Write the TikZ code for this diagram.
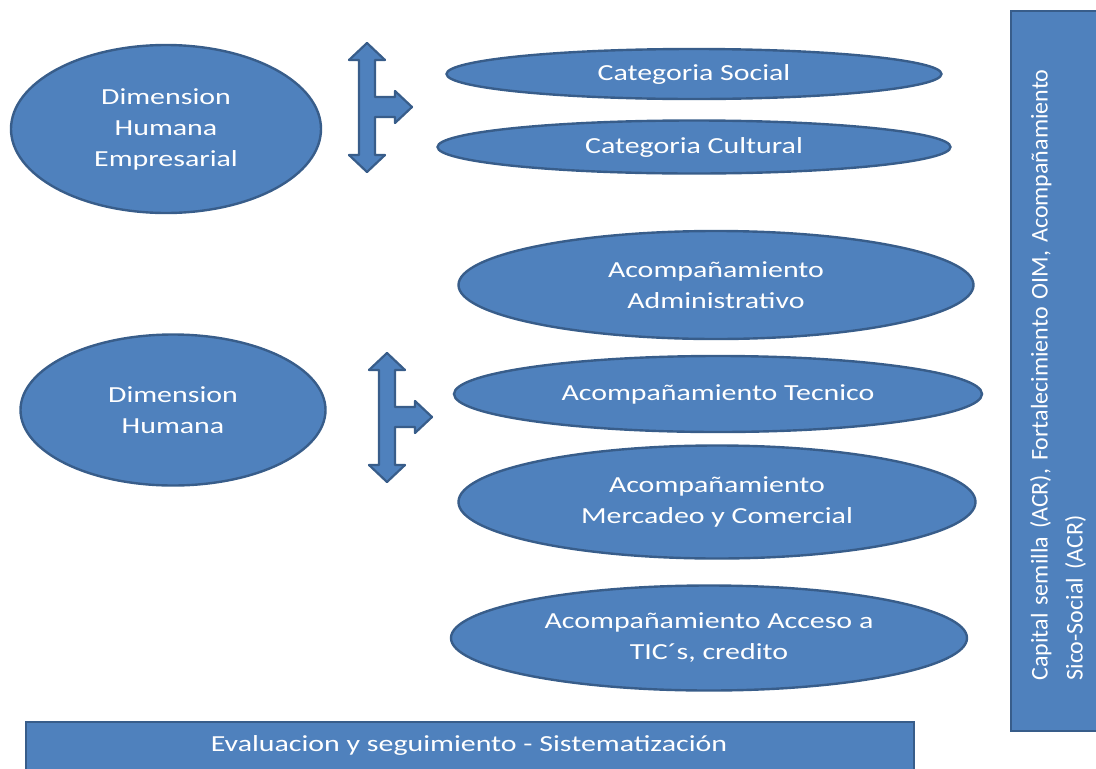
\documentclass[tikz,border=0pt]{standalone}
\usepackage{fontspec}
\setmainfont{Carlito}
\newfontfamily\wide[FakeStretch=1.3]{Carlito}
\usetikzlibrary{shapes.geometric}
\definecolor{fillblue}{RGB}{79,129,189}
\definecolor{edgeblue}{RGB}{56,93,138}
\tikzset{
  oval/.style={ellipse, draw=edgeblue, line width=2.4pt, fill=fillblue, text=white,
    inner sep=0pt, align=center, font=\wide\fontsize{23}{31}\selectfont},
  bar/.style={draw=edgeblue, line width=2.4pt, fill=fillblue, text=white},
  branch/.style={draw=edgeblue, line width=2.2pt, fill=fillblue, line join=round}
}
\frenchspacing
\begin{document}
\begin{tikzpicture}[x=1pt,y=-1pt]
\useasboundingbox (0,0) rectangle (1096,769);
\clip (0,0) rectangle (1096,769);
% left ellipses
\node[oval, minimum width=310pt, minimum height=168pt] (dhe) at (166,129) {Dimension\\Humana\\Empresarial};
\node[oval, minimum width=305pt, minimum height=151pt] (dh) at (173,410) {Dimension\\Humana};
% right ellipses
\node[oval, minimum width=495pt, minimum height=50pt] (cs) at (694,74) {Categoria Social};
\node[oval, minimum width=513pt, minimum height=53pt] (cc) at (694,147) {Categoria Cultural};
\node[oval, minimum width=515pt, minimum height=108pt] (aa) at (716,285) {Acompañamiento\\Administrativo};
\node[oval, minimum width=528pt, minimum height=76pt] (at) at (718,394) {Acompañamiento Tecnico};
\node[oval, minimum width=517pt, minimum height=113pt] (am) at (717,502) {Acompañamiento\\Mercadeo y Comercial};
\node[oval, minimum width=516pt, minimum height=105pt] (ac) at (709,638) {Acompañamiento Acceso a\\TIC´s, credito};
% branching arrows
\foreach \dx/\dy in {0/0, 20/310}{
\draw[branch, shift={(\dx,\dy)}] (367,43) -- (385,60) -- (375,60) -- (375,97) -- (395,97) -- (395,91)
  -- (412,107) -- (395,123) -- (395,117) -- (375,117) -- (375,155) -- (385,155) -- (367,172)
  -- (349,155) -- (359,155) -- (359,60) -- (349,60) -- cycle;
}
% bottom bar
\node[bar, minimum width=888pt, minimum height=60pt, anchor=north west, inner sep=0pt] (ev) at (25,721) {};
\node[text=white, font=\wide\fontsize{23}{25}\selectfont] (evt) at (469,745) {Evaluacion y seguimiento - Sistematización};
% right bar
\node[bar, minimum width=110pt, minimum height=720pt, anchor=north west, inner sep=0pt] (cap) at (1010,10) {};
\node[rotate=90, text=white, align=left, text width=625pt, inner sep=0pt,
  font=\fontsize{24}{35}\selectfont] (capt) at (1058,368)
  {Capital semilla (ACR), Fortalecimiento OIM, Acompañamiento\\Sico-Social (ACR)};
\end{tikzpicture}
\end{document}
